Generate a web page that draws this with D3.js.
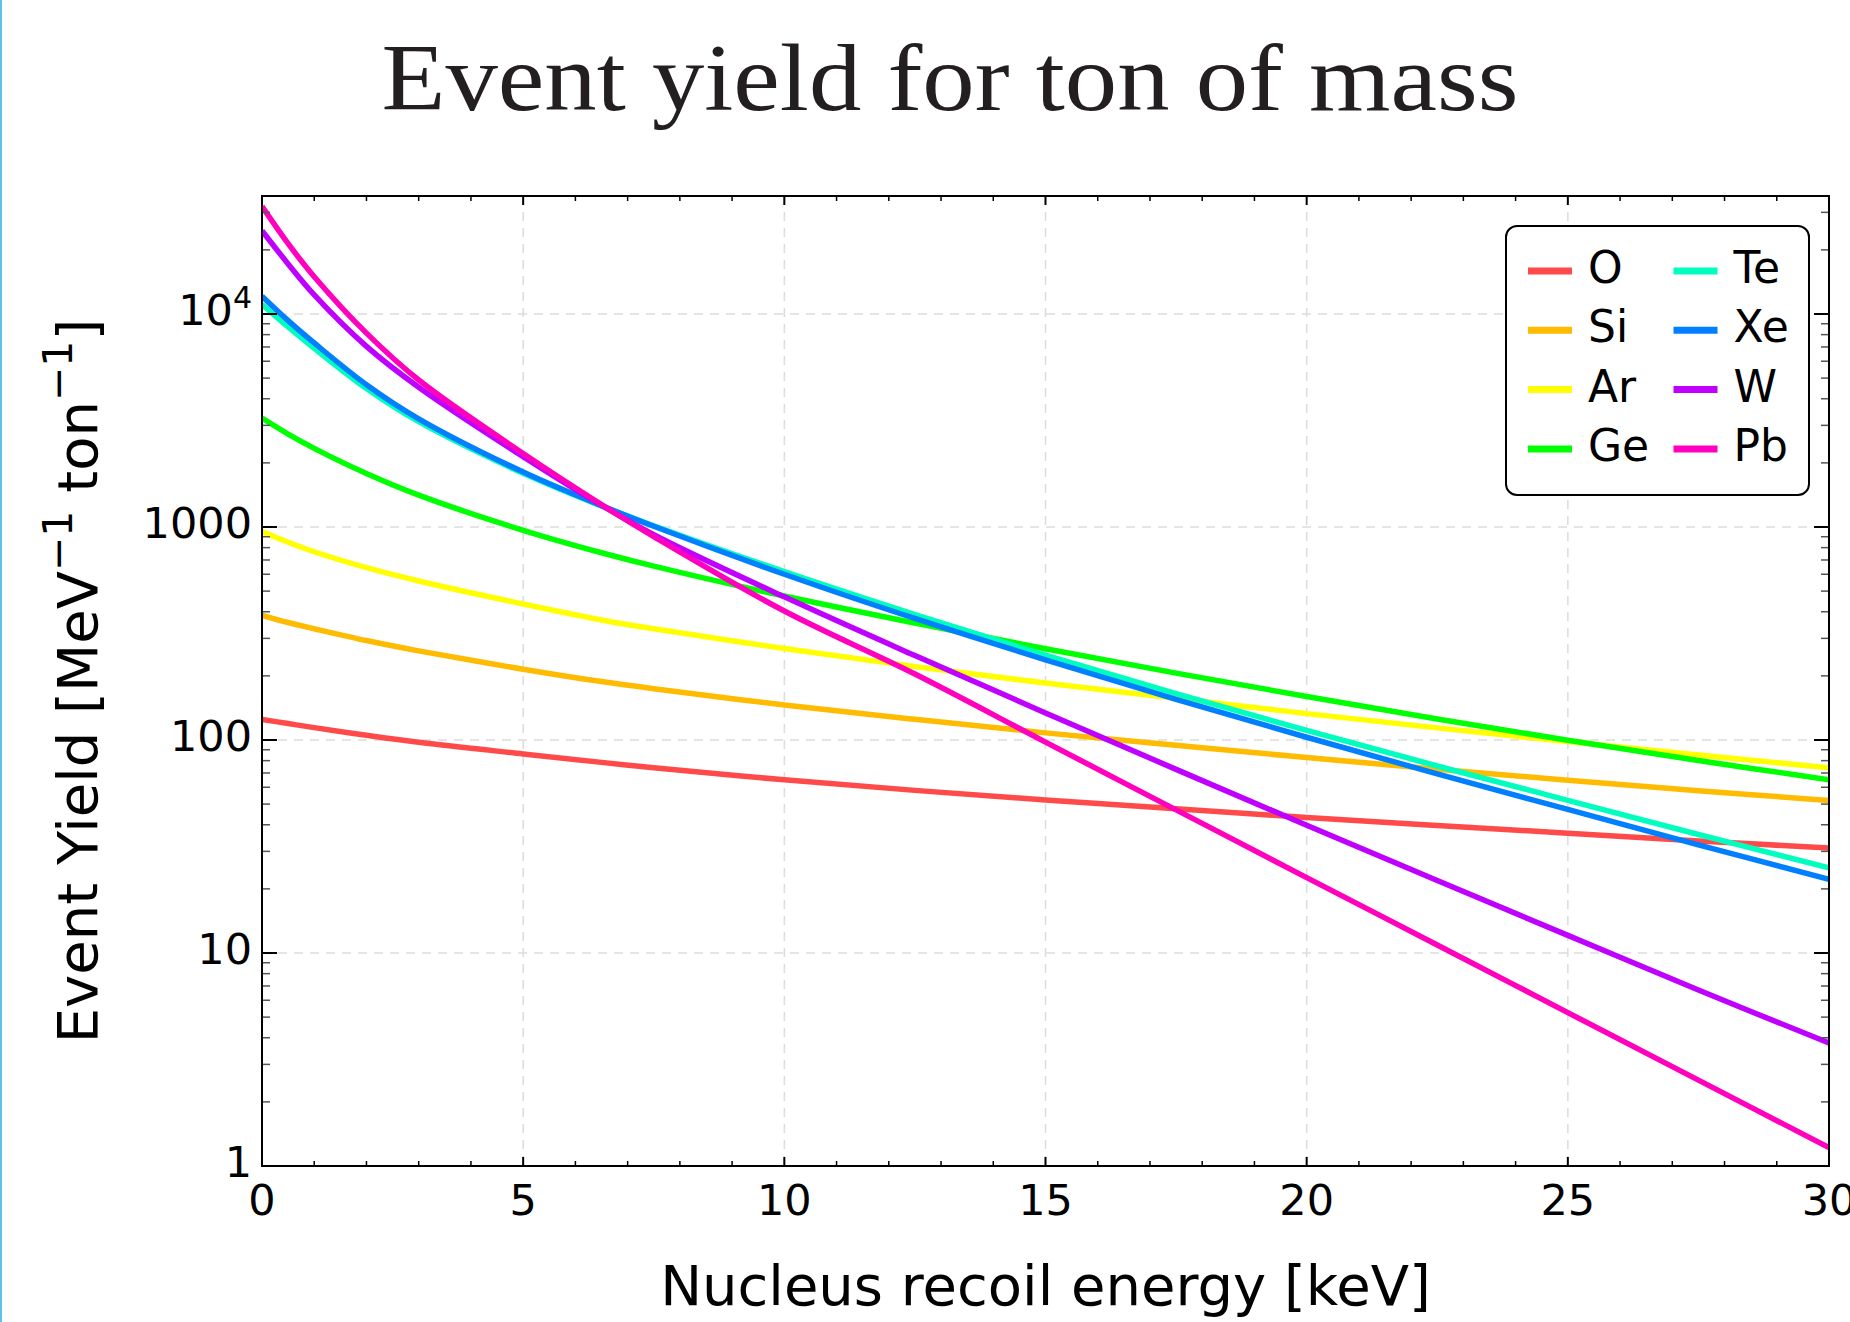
<!DOCTYPE html>
<html>
<head>
<meta charset="utf-8">
<script src="https://cdn.jsdelivr.net/npm/d3@7"></script>
<style>
  body { margin: 0; background: #fff; }
</style>
</head>
<body>
<div id="chart"></div>
<script>
// recoil energy grid [keV] and yields [MeV^-1 ton^-1]
var energy = [0, 0.5, 1, 2, 3, 5, 6.5, 7.5, 10, 12.5, 15, 17.5, 20, 22.5, 25, 27.5, 30];
var yieldO  = [125, 119.4, 114.3, 105.2, 97.5, 86, 78.5, 74, 65, 58, 52.3, 47.5, 43.3, 39.7, 36.5, 33.6, 31.1];
var yieldSi = [385, 356, 333, 293, 262, 215, 188, 174, 146, 125, 108, 94.4, 82.7, 72.9, 64.7, 57.8, 52];
var yieldAr = [952, 848, 765, 644, 558, 435, 366, 333, 269, 221, 185, 157, 133, 114, 98.3, 85, 74];
var yieldGe = [3245, 2730, 2340, 1782, 1410, 965, 757, 655, 474, 354, 268, 206, 160, 125.5, 99.7, 80.1, 65.1];
var yieldTe = [11110, 8690, 6900, 4465, 3120, 1786, 1254, 1013, 617, 388, 250, 165, 111, 75.5, 52.1, 36, 25.1];
var yieldXe = [12130, 9310, 7310, 4656, 3221, 1811, 1260, 1008, 600, 372, 238, 155, 103, 69.3, 47.2, 32.2, 22.2];
var yieldW  = [24600, 17180, 12300, 7047, 4529, 2138, 1265, 920, 470, 249, 134, 72.8, 39.8, 21.9, 12.1, 6.7, 3.78];
var yieldPb = [31990, 21380, 14960, 8128, 4898, 2213, 1274, 902, 403, 204, 97.7, 47, 22.6, 10.9, 5.25, 2.53, 1.22];

var elements = ['O', 'Si', 'Ar', 'Ge', 'Te', 'Xe', 'W', 'Pb'];
var series = [yieldO, yieldSi, yieldAr, yieldGe, yieldTe, yieldXe, yieldW, yieldPb];
var colors = ['#ff4a4a', '#ffbb00', '#ffff00', '#00ff00', '#00ffbf', '#0080ff', '#bf00ff', '#ff00bf'];

var xTicks = [0, 5, 10, 15, 20, 25, 30];
var yTicks = [1, 10, 100, 1000, 10000];

var width = 1850;
var height = 1322;
// plot box (note: "top" is a reserved window property, so prefix these)
var plotLeft = 262, plotRight = 1829, plotTop = 196, plotBottom = 1166;
var sans = "'DejaVu Sans', sans-serif";

var svg = d3.select('#chart').append('svg')
      .attr('width', width)
      .attr('height', height)
      .style('display', 'block');

// thin cyan edge on the left of the page
svg.append('rect')
      .attr('x', 0).attr('y', 0)
      .attr('width', 2).attr('height', height)
      .style('fill', '#5bc2ea');

var xScale = d3.scaleLinear()
      .domain([0, 30])
      .range([plotLeft, plotRight]);

var yScale = d3.scaleLog()
      .domain([1, 35800])
      .range([plotBottom, plotTop]);

// title
svg.append('text')
      .attr('x', 950)
      .attr('y', 110)
      .attr('textLength', 1137)
      .attr('lengthAdjust', 'spacingAndGlyphs')
      .style('text-anchor', 'middle')
      .style('font-family', "'Liberation Serif', serif")
      .style('font-size', '96px')
      .style('fill', '#231f20')
      .text('Event yield for ton of mass');

// grid lines
var grid = svg.append('g')
      .style('stroke', '#dcdcdc')
      .style('stroke-width', 1.5)
      .style('stroke-dasharray', '9,7');
grid.selectAll(null)
      .data(xTicks.filter(d => d > 0 && d < 30))
      .enter().append('line')
      .attr('x1', d => xScale(d)).attr('x2', d => xScale(d))
      .attr('y1', plotTop).attr('y2', plotBottom);
grid.selectAll(null)
      .data(yTicks.filter(d => d > 1))
      .enter().append('line')
      .attr('x1', plotLeft).attr('x2', plotRight)
      .attr('y1', d => yScale(d)).attr('y2', d => yScale(d));

// curves
svg.append('clipPath').attr('id', 'clip')
   .append('rect')
      .attr('x', plotLeft).attr('y', plotTop)
      .attr('width', plotRight - plotLeft).attr('height', plotBottom - plotTop);

var line = d3.line()
      .x((d, i) => xScale(energy[i]))
      .y(d => yScale(d))
      .curve(d3.curveCatmullRom.alpha(0.5));

svg.append('g')
      .attr('clip-path', 'url(#clip)')
   .selectAll('path')
      .data(series)
   .enter().append('path')
      .attr('d', d => line(d))
      .style('fill', 'none')
      .style('stroke', (d, i) => colors[i])
      .style('stroke-width', 5.5)
      .style('stroke-linejoin', 'round');

// ticks (all pointing inward, mirrored on top and right)
var xMinor = d3.range(0, 31).filter(d => d % 5 != 0);
var yMinor = [];
for (var p = 0; p <= 4; p++) {
      for (var m = 2; m <= 9; m++) {
            var v = m * Math.pow(10, p);
            if (v < 35800) yMinor.push(v);
      }
}

var ticks = svg.append('g').style('stroke', '#000');
function tickX(vals, len, w) {
      ticks.selectAll(null).data(vals).enter().append('line')
            .attr('x1', d => xScale(d)).attr('x2', d => xScale(d))
            .attr('y1', plotBottom).attr('y2', plotBottom - len)
            .style('stroke-width', w);
      ticks.selectAll(null).data(vals).enter().append('line')
            .attr('x1', d => xScale(d)).attr('x2', d => xScale(d))
            .attr('y1', plotTop).attr('y2', plotTop + len)
            .style('stroke-width', w);
}
function tickY(vals, len, w, col) {
      ticks.selectAll(null).data(vals).enter().append('line')
            .attr('y1', d => yScale(d)).attr('y2', d => yScale(d))
            .attr('x1', plotLeft).attr('x2', plotLeft + len)
            .style('stroke-width', w).style('stroke', col);
      ticks.selectAll(null).data(vals).enter().append('line')
            .attr('y1', d => yScale(d)).attr('y2', d => yScale(d))
            .attr('x1', plotRight).attr('x2', plotRight - len)
            .style('stroke-width', w).style('stroke', col);
}
tickX(xTicks, 9, 2);
tickX(xMinor, 5, 1.5);
tickY(yTicks, 15, 2, '#000');
tickY(yMinor, 8, 1.5, '#555');

// frame
svg.append('rect')
      .attr('x', plotLeft).attr('y', plotTop)
      .attr('width', plotRight - plotLeft).attr('height', plotBottom - plotTop)
      .style('fill', 'none')
      .style('stroke', '#000')
      .style('stroke-width', 2);

// tick labels
svg.append('g').selectAll('text')
      .data(xTicks)
   .enter().append('text')
      .attr('x', d => xScale(d))
      .attr('y', 1215)
      .style('text-anchor', 'middle')
      .style('font-family', sans)
      .style('font-size', '43px')
      .text(d => d);

var yLabels = svg.append('g').selectAll('text')
      .data(yTicks)
   .enter().append('text')
      .attr('x', 252)
      .attr('y', d => yScale(d) + 11)
      .style('text-anchor', 'end')
      .style('font-family', sans)
      .style('font-size', '43px');
yLabels.each(function(d) {
      var t = d3.select(this);
      if (d >= 10000) {
            t.append('tspan').text('10');
            t.append('tspan')
                  .attr('dy', -17)
                  .style('font-size', '30px')
                  .text(Math.round(Math.log10(d)));
      } else {
            t.text(d);
      }
});

// axis titles
svg.append('text')
      .attr('x', (plotLeft + plotRight) / 2)
      .attr('y', 1305)
      .style('text-anchor', 'middle')
      .style('font-family', sans)
      .style('font-size', '56px')
      .text('Nucleus recoil energy [keV]');

var yTitle = svg.append('text')
      .attr('transform', 'translate(97,' + ((plotTop + plotBottom) / 2) + ') rotate(-90)')
      .style('text-anchor', 'middle')
      .style('font-family', sans)
      .style('font-size', '56px');
yTitle.append('tspan').text('Event Yield [MeV');
yTitle.append('tspan').attr('dy', -25).style('font-size', '41px').text('\u22121');
yTitle.append('tspan').attr('dy', 25).text(' ton');
yTitle.append('tspan').attr('dy', -25).style('font-size', '41px').text('\u22121');
yTitle.append('tspan').attr('dy', 25).text(']');

// legend
var legend = svg.append('g');
legend.append('rect')
      .attr('x', 1506).attr('y', 226)
      .attr('width', 303).attr('height', 269)
      .attr('rx', 11)
      .style('fill', '#fff')
      .style('stroke', '#000')
      .style('stroke-width', 2);

var entry = legend.selectAll('g.entry')
      .data(elements)
   .enter().append('g')
      .attr('transform', (d, i) => 'translate(' + (i < 4 ? 0 : 145.5) + ',' + (271 + (i % 4) * 59.3) + ')');
entry.append('line')
      .attr('x1', 1528).attr('x2', 1572)
      .attr('y1', 0).attr('y2', 0)
      .style('stroke', (d, i) => colors[i])
      .style('stroke-width', 7);
entry.append('text')
      .attr('x', 1588)
      .attr('y', 12)
      .style('font-family', sans)
      .style('font-size', '44px')
      .text(d => d);
</script>
</body>
</html>
